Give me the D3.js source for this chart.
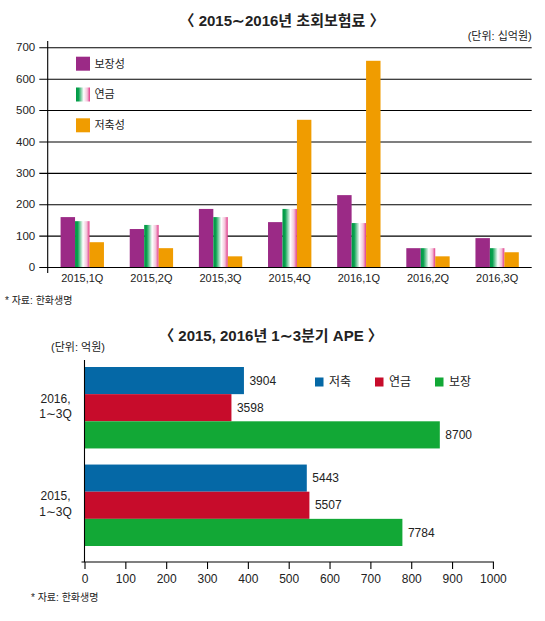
<!DOCTYPE html>
<html>
<head>
<meta charset="utf-8">
<script src="https://cdn.jsdelivr.net/npm/d3@7"></script>
<style>
  body { margin: 0; background: #fff; }
  text { font-family: "Liberation Sans", "Noto Sans CJK KR", sans-serif; fill: #222; }
</style>
</head>
<body>
<div id="chart"></div>
<script>
// top chart: 초회보험료 (십억원)
const quarters = ["2015,1Q", "2015,2Q", "2015,3Q", "2015,4Q", "2016,1Q", "2016,2Q", "2016,3Q"]
const premiumTypes = ["보장성", "연금", "저축성"]
const protection = [159, 121, 185, 143, 229, 60, 92]
const annuity = [146, 134, 159, 185, 140, 60, 60]
const savings = [79, 60, 34, 469, 657, 34, 47]
const premiumTicks = [0, 100, 200, 300, 400, 500, 600, 700]

// bottom chart: APE (억원)
const apePeriods = ["2016,|1∼3Q", "2015,|1∼3Q"]
const apeTypes = ["저축", "연금", "보장"]
const apeSavings = [3904, 5443]
const apeAnnuity = [3598, 5507]
const apeProtection = [8700, 7784]
const apeTicks = [0, 100, 200, 300, 400, 500, 600, 700, 800, 900, 1000]

var svg = d3.select("#chart").append("svg")
    .attr("width", 545)
    .attr("height", 621)

// gradient used for the 연금 bars
var grad = svg.append("defs").append("linearGradient")
    .attr("id", "annuityGrad")
    .attr("x1", "0%").attr("x2", "100%").attr("y1", "0%").attr("y2", "0%")
grad.selectAll("stop")
    .data([[0, "#009944"], [0.18, "#0aa14f"], [0.55, "#ffffff"], [0.8, "#f3c3d9"], [1, "#e03a8a"]])
    .enter().append("stop")
    .attr("offset", d => d[0])
    .attr("stop-color", d => d[1])

// ----------------
// top chart
// ----------------
var left = 47.7, right = 531.7
var x0 = d3.scaleBand().domain(quarters).range([left, right])
    .paddingInner(0.373).paddingOuter(0.1865)
var x1 = d3.scaleBand().domain(premiumTypes).range([0, x0.bandwidth()])
var y = d3.scaleLinear().domain([0, 700]).range([267, 47.3])
var color = d3.scaleOrdinal().domain(premiumTypes)
    .range(["#9b2a86", "url(#annuityGrad)", "#f09c00"])

svg.append("text")
    .attr("x", 282).attr("y", 21)
    .attr("dy", "0.35em")
    .attr("text-anchor", "middle")
    .style("font-size", "15px").style("font-weight", "bold")
    .text("〈 2015∼2016년 초회보험료 〉")

svg.append("text")
    .attr("x", right).attr("y", 36)
    .attr("dy", "0.35em")
    .attr("text-anchor", "end")
    .style("font-size", "11px")
    .text("(단위: 십억원)")

// y axis with gridlines
var yAxis = svg.append("g")
    .attr("transform", "translate(" + left + ",0)")
    .call(d3.axisLeft(y).tickValues(premiumTicks).tickSizeInner(-(right - left)).tickSizeOuter(0).tickPadding(12.5))
yAxis.select(".domain").remove()
yAxis.selectAll(".tick line").attr("x1", -8.4).attr("stroke", "#000").attr("stroke-width", 1.1)
yAxis.selectAll(".tick text").style("font-size", "11.5px").style("fill", "#222")

svg.append("line")
    .attr("x1", left).attr("x2", left)
    .attr("y1", 41).attr("y2", 273)
    .attr("stroke", "#000").attr("stroke-width", 1.1)

var rows = quarters.map((q, i) => ({ q: q, values: [protection[i], annuity[i], savings[i]] }))

svg.append("g").selectAll("g")
    .data(rows)
    .enter().append("g")
    .attr("transform", d => "translate(" + x0(d.q) + ",0)")
    .selectAll("rect")
    .data(d => d.values.map((v, i) => ({ key: premiumTypes[i], value: v })))
    .enter().append("rect")
    .attr("x", d => x1(d.key))
    .attr("y", d => y(d.value))
    .attr("width", x1.bandwidth())
    .attr("height", d => y(0) - y(d.value))
    .attr("fill", d => color(d.key))

// category labels
svg.append("g").selectAll("text")
    .data(quarters)
    .enter().append("text")
    .attr("x", d => x0(d) + x0.bandwidth() / 2)
    .attr("y", 278.5)
    .attr("dy", "0.35em")
    .attr("text-anchor", "middle")
    .style("font-size", "11px")
    .text(d => d)

// legend
var legTop = svg.append("g").selectAll("g")
    .data(premiumTypes)
    .enter().append("g")
    .attr("transform", (d, i) => "translate(76," + (56.7 + i * 30.8) + ")")
legTop.append("rect")
    .attr("width", 14).attr("height", 14)
    .attr("fill", d => color(d))
legTop.append("text")
    .attr("x", 18.5).attr("y", 7)
    .attr("dy", "0.35em")
    .style("font-size", "11px")
    .text(d => d)

svg.append("text")
    .attr("x", 5).attr("y", 300)
    .attr("dy", "0.35em")
    .style("font-size", "10px")
    .text("* 자료: 한화생명")

// ----------------
// bottom chart
// ----------------
var bx = d3.scaleLinear().domain([0, 1000]).range([84.5, 492.9])
var by0 = d3.scaleBand().domain(apePeriods).range([367, 546]).paddingInner(0.165)
var by1 = d3.scaleBand().domain(apeTypes).range([0, by0.bandwidth()])
var apeColor = d3.scaleOrdinal().domain(apeTypes).range(["#0568a6", "#c70c2b", "#12a836"])

svg.append("text")
    .attr("x", 271).attr("y", 336)
    .attr("dy", "0.35em")
    .attr("text-anchor", "middle")
    .style("font-size", "15px").style("font-weight", "bold")
    .text("〈 2015, 2016년 1∼3분기 APE 〉")

svg.append("text")
    .attr("x", 51).attr("y", 347)
    .attr("dy", "0.35em")
    .style("font-size", "11px")
    .text("(단위: 억원)")

var apeRows = apePeriods.map((p, i) => ({ p: p, values: [apeSavings[i], apeAnnuity[i], apeProtection[i]] }))

var apeGroups = svg.append("g").selectAll("g")
    .data(apeRows)
    .enter().append("g")
    .attr("transform", d => "translate(0," + by0(d.p) + ")")

var apeBars = apeGroups.selectAll("g")
    .data(d => d.values.map((v, i) => ({ key: apeTypes[i], value: v })))
    .enter().append("g")

// axis scale is in 10 억원 units (0~1000), values are in 억원
apeBars.append("rect")
    .attr("x", bx(0))
    .attr("y", d => by1(d.key))
    .attr("width", d => bx(d.value / 10) - bx(0))
    .attr("height", by1.bandwidth())
    .attr("fill", d => apeColor(d.key))

apeBars.append("text")
    .attr("x", d => bx(d.value / 10) + 5.5)
    .attr("y", d => by1(d.key) + by1.bandwidth() / 2)
    .attr("dy", "0.35em")
    .style("font-size", "12px")
    .text(d => d.value)

// category labels (two lines)
apeGroups.append("text")
    .attr("x", 55.5)
    .attr("y", d => by0.bandwidth() / 2 - 5)
    .attr("text-anchor", "middle")
    .style("font-size", "12px")
    .selectAll("tspan")
    .data(d => d.p.split("|"))
    .enter().append("tspan")
    .attr("x", 55.5)
    .attr("dy", (d, i) => i == 0 ? "0" : "1.3em")
    .text(d => d)

// x axis
var xAxis = svg.append("g")
    .attr("transform", "translate(0,562)")
    .call(d3.axisBottom(bx).tickValues(apeTicks).tickFormat(d3.format("d"))
        .tickSizeInner(7).tickSizeOuter(0).tickPadding(5))
xAxis.select(".domain").remove()
xAxis.selectAll(".tick line").attr("stroke", "#000").attr("stroke-width", 1.1)
xAxis.selectAll(".tick text").style("font-size", "12px").style("fill", "#222")

svg.append("line")
    .attr("x1", 81.5).attr("x2", 494)
    .attr("y1", 562).attr("y2", 562)
    .attr("stroke", "#000").attr("stroke-width", 1.1)
svg.append("line")
    .attr("x1", bx(0)).attr("x2", bx(0))
    .attr("y1", 360).attr("y2", 562)
    .attr("stroke", "#000").attr("stroke-width", 1.1)

// legend
var legBot = svg.append("g").selectAll("g")
    .data(apeTypes)
    .enter().append("g")
    .attr("transform", (d, i) => "translate(" + (315 + i * 60) + ",377.5)")
legBot.append("rect")
    .attr("width", 8.5).attr("height", 9)
    .attr("fill", d => apeColor(d))
legBot.append("text")
    .attr("x", 14).attr("y", 4.5)
    .attr("dy", "0.35em")
    .style("font-size", "12px")
    .text(d => d)

svg.append("text")
    .attr("x", 31).attr("y", 597)
    .attr("dy", "0.35em")
    .style("font-size", "10px")
    .text("* 자료: 한화생명")
</script>
</body>
</html>
